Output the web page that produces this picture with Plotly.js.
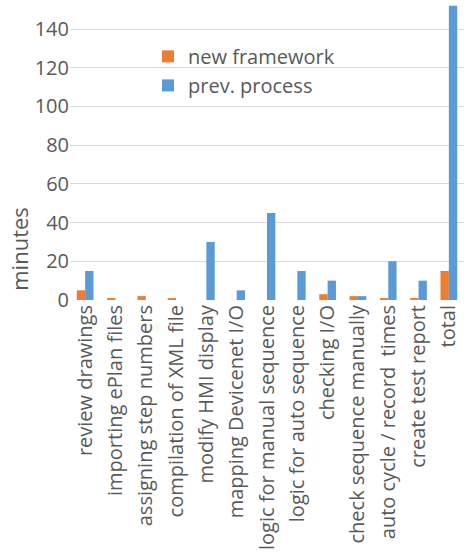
<!DOCTYPE html>
<html><head><meta charset="utf-8">
<script src="https://cdn.plot.ly/plotly-3.0.1.min.js"></script>
<style>html,body{margin:0;padding:0;background:#fff}</style>
</head><body><div id="chart" style="width:464px;height:554px"></div>
<script>
const categories = ["review drawings","importing ePlan files","assigning step numbers","compilation of XML file","modify HMI display","mapping Devicenet I/O","logic for manual sequence","logic for auto sequence","checking I/O","check sequence manually","auto cycle / record  times","create test report","total"];
const newFramework = [5, 1, 2, 1, 0, 0, 0, 0, 3, 2, 1, 1, 15];
const prevProcess = [15, 0, 0, 0, 30, 5, 45, 15, 10, 2, 20, 10, 152];
const yTicks = [0,20,40,60,80,100,120,140];
const font = "Open Sans, Lato, sans-serif";
const grey = "#595959";
const data = [
  {type:"bar", name:"new framework", x:categories, y:newFramework, marker:{color:"#ED7D31"}},
  {type:"bar", name:"prev. process", x:categories, y:prevProcess, marker:{color:"#5B9BD5"}}
];
const layout = {
  width:464, height:554,
  margin:{l:70, r:0, t:0, b:254},
  paper_bgcolor:"#fff", plot_bgcolor:"#fff",
  barmode:"group", bargap:0.45, bargroupgap:0,
  font:{family:font, color:grey, size:18},
  xaxis:{tickangle:-90, tickfont:{size:20, color:grey}, showgrid:false, zeroline:false, showline:false, ticks:"", automargin:false},
  yaxis:{range:[0,155], tickvals:yTicks, tickfont:{size:20, color:grey}, gridcolor:"#d9d9d9", gridwidth:1, zeroline:false, showline:false, ticks:"", ticklen:0, automargin:false},
  annotations:[{text:"minutes", xref:"paper", yref:"paper", x:-0.13, y:0.17, xanchor:"center", yanchor:"middle", textangle:-90, showarrow:false, font:{size:22, color:grey}}],
  legend:{x:0.198, y:0.877, xanchor:"left", yanchor:"top", bgcolor:"rgba(0,0,0,0)", font:{size:20, color:grey}, tracegroupgap:0, itemwidth:30},
  showlegend:true
};
Plotly.newPlot("chart", data, layout, {displayModeBar:false, staticPlot:true});
</script></body></html>
